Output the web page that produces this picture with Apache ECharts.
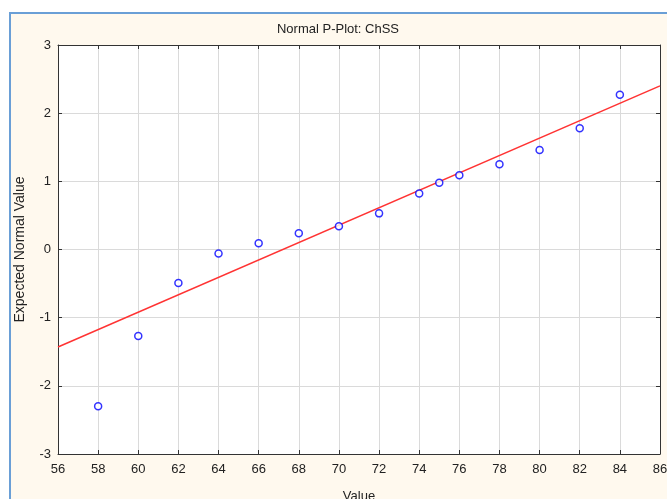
<!DOCTYPE html>
<html>
<head>
<meta charset="utf-8">
<script src="https://cdn.jsdelivr.net/npm/echarts@6/dist/echarts.min.js"></script>
<style>
  html, body { margin: 0; padding: 0; background: #ffffff; }
  body { width: 667px; height: 499px; overflow: hidden; position: relative; }
  #frame {
    position: absolute; left: 9px; top: 12px; width: 700px; height: 520px;
    background: #fff9ee; border-left: 2px solid #6a9fd6; border-top: 2px solid #6a9fd6;
  }
  #chart { position: absolute; left: 0; top: 0; width: 667px; height: 499px; }
</style>
</head>
<body>
<div id="frame"></div>
<div id="chart"></div>
<script>
// observed values and their expected normal scores
const values = [58, 60, 62, 64, 66, 68, 70, 72, 74, 75, 76, 78, 80, 82, 84];
const expected = [-2.30, -1.27, -0.49, -0.06, 0.09, 0.24, 0.34, 0.53, 0.82, 0.98, 1.09, 1.25, 1.46, 1.78, 2.27];

// fitted reference line (end points)
const lineX = [56, 86];
const lineY = [-1.43, 2.40];

const xMin = 56, xMax = 86, xStep = 2;
const yMin = -3, yMax = 3, yStep = 1;

const font = "'Liberation Sans', Arial, sans-serif";
const tickStyle = { show: true, inside: true, length: 4, lineStyle: { color: "#333" } };
const frameLine = { show: true, onZero: false, lineStyle: { color: "#333", width: 1 } };

const chart = echarts.init(document.getElementById("chart"));

const option = {
  animation: false,
  title: {
    text: "Normal P-Plot: ChSS",
    left: 333,
    top: 18,
    textAlign: "center",
    textStyle: { fontFamily: font, fontSize: 13, fontWeight: "normal", color: "#222" },
  },
  grid: {
    left: 58, top: 45, width: 602, height: 409,
    outerBoundsMode: "none", containLabel: false,
    show: true, backgroundColor: "#ffffff", borderWidth: 0,
  },
  xAxis: [
    {
      type: "value", min: xMin, max: xMax, interval: xStep,
      name: "Value", nameLocation: "middle", nameGap: 36,
      nameTextStyle: { fontFamily: font, fontSize: 13, color: "#222" },
      axisLine: frameLine, axisTick: tickStyle,
      axisLabel: { fontFamily: font, fontSize: 13, color: "#222", margin: 9 },
      splitLine: { show: true, lineStyle: { color: "#dadada", width: 1 } },
    },
    {
      type: "value", position: "top", min: xMin, max: xMax, interval: xStep,
      axisLine: frameLine, axisTick: tickStyle,
      axisLabel: { show: false }, splitLine: { show: false },
    },
  ],
  yAxis: [
    {
      type: "value", min: yMin, max: yMax, interval: yStep,
      name: "Expected Normal Value", nameLocation: "middle", nameGap: 31,
      nameTextStyle: { fontFamily: font, fontSize: 14, color: "#222" },
      axisLine: frameLine, axisTick: tickStyle,
      axisLabel: { fontFamily: font, fontSize: 13, color: "#222", margin: 7 },
      splitLine: { show: true, lineStyle: { color: "#dadada", width: 1 } },
    },
    {
      type: "value", position: "right", min: yMin, max: yMax, interval: yStep,
      axisLine: frameLine, axisTick: tickStyle,
      axisLabel: { show: false }, splitLine: { show: false },
    },
  ],
  series: [
    {
      type: "line",
      data: lineX.map((x, i) => [x, lineY[i]]),
      showSymbol: false,
      lineStyle: { color: "#ff3333", width: 1.5 },
      z: 2,
    },
    {
      type: "scatter",
      data: values.map((v, i) => [v, expected[i]]),
      symbol: "circle",
      symbolSize: 7,
      itemStyle: { color: "#ffffff", borderColor: "#0000ff", borderWidth: 1.5 },
      z: 3,
    },
  ],
};

chart.setOption(option);
</script>
</body>
</html>
